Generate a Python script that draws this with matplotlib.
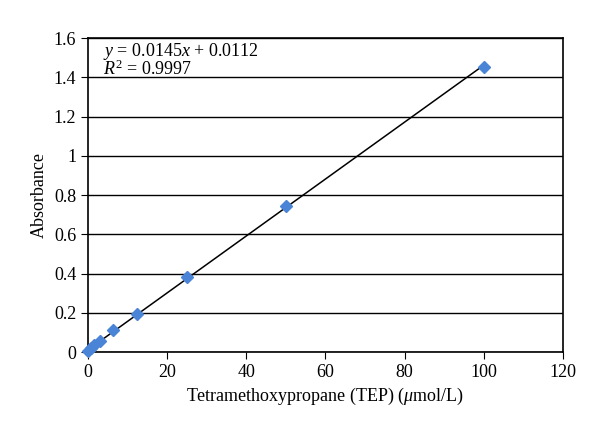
import numpy as np
from matplotlib import pyplot as plt

plt.rcParams['font.family'] = ['Liberation Serif', 'DejaVu Serif']
plt.rcParams['mathtext.fontset'] = 'custom'
plt.rcParams['mathtext.rm'] = 'Liberation Serif'
plt.rcParams['mathtext.it'] = 'Liberation Serif:italic'

conc = [0, 0.78, 1.56, 3.125, 6.25, 12.5, 25, 50, 100]
absorb = [0.005, 0.02, 0.035, 0.055, 0.11, 0.195, 0.38, 0.745, 1.45]
slope = 0.0145
intercept = 0.0112

fig = plt.figure(figsize=(6, 4.4), dpi=100)
ax = fig.add_axes([0.1467, 0.2, 0.7913, 0.7136])

xl = np.array([0, 100])
ax.plot(xl, slope * xl + intercept, color='black', lw=1.1, zorder=2)
ax.plot(conc, absorb, 'D', color='#4a84d6', markersize=6, zorder=3, clip_on=False)

ax.set_xlim(0, 120)
ax.set_ylim(0, 1.6)
ax.set_xticks(np.arange(0, 121, 20))
ax.set_yticks(np.arange(0, 1.61, 0.2))
ax.set_yticklabels(['0', '0.2', '0.4', '0.6', '0.8', '1', '1.2', '1.4', '1.6'])
ax.yaxis.grid(True, color='black', lw=1)
ax.set_axisbelow(True)
for s in ax.spines.values():
    s.set_linewidth(1.2)
ax.tick_params(direction='out', length=5, labelsize=13, color='black')

ax.set_xlabel('Tetramethoxypropane (TEP) ($\\mu$mol/L)', fontsize=13)
ax.set_ylabel('Absorbance', fontsize=13)

ax.text(0.032, 0.99, '$y$ = 0.0145$x$ + 0.0112\n$R^2$ = 0.9997', transform=ax.transAxes,
        fontsize=13, va='top', ha='left', linespacing=0.85)

fig.savefig('out.png')
